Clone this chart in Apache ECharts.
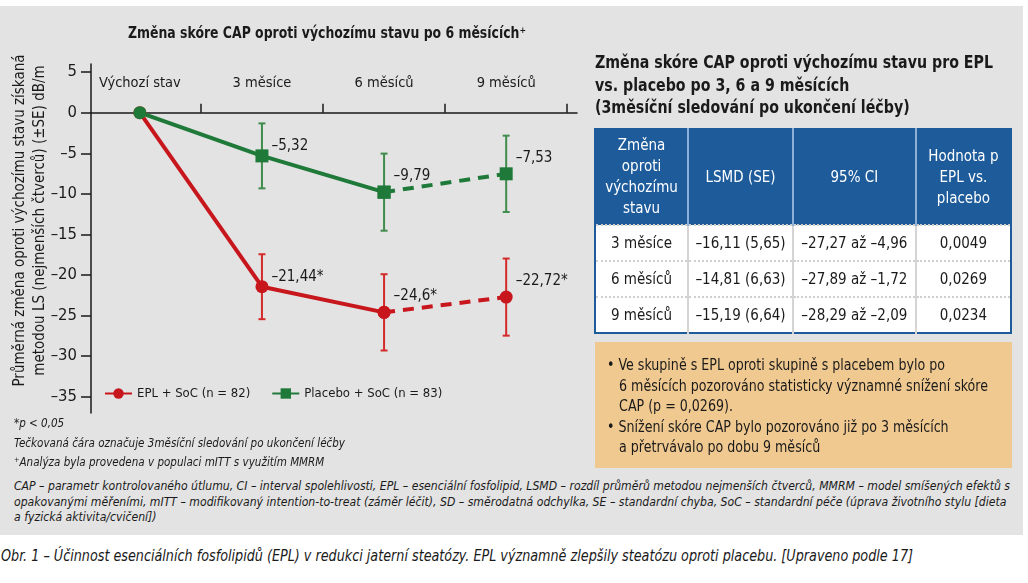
<!DOCTYPE html>
<html>
<head>
<meta charset="utf-8">
<script src="https://cdn.jsdelivr.net/npm/echarts@6/dist/echarts.min.js"></script>
<style>
  body { margin: 0; background: #fff; font-family: 'DejaVu Sans Condensed', 'Liberation Sans', sans-serif; color: #1a1a1a; }
  #panel { position: absolute; left: 0; top: 6px; width: 1023px; height: 529px; background: #e3e3e3; }
  #chart { position: absolute; left: 0; top: 0; width: 654px; height: 420px; }
  .abs { position: absolute; white-space: nowrap; transform-origin: 0 0; }
  #ctitle { left: 128px; top: 23px; font-weight: bold; font-size: 16px; line-height: 20px; }
  #rtitle { left: 595px; top: 51px; font-weight: bold; font-size: 17.5px; line-height: 22.5px; }
  table { position: absolute; left: 594px; top: 128px; width: 418px; border-collapse: collapse; border: 2px solid #1d5b9b; font-size: 15px; }
  th { background: #1d5b9b; color: #fff; font-weight: normal; line-height: 21px; height: 94px; padding: 0; border-left: 2px solid #8fb0d6; }
  td { background: #fff; text-align: center; height: 34px; padding: 0; border-left: 2px solid #d4d4d4; border-top: 2px dotted #cfcfcf; }
  th:first-child, td:first-child { border-left: none; }
  #box { left: 595px; top: 342px; width: 417px; height: 126px; background: #f0c990; }
  #boxtext { left: 607px; top: 355px; font-size: 15.5px; line-height: 20.5px; }
  .foot { left: 14px; font-style: italic; font-size: 13px; }
</style>
</head>
<body>
<div id="panel"></div>
<div id="chart"></div>

<div id="ctitle" class="abs">Změna skóre CAP oproti výchozímu stavu po 6 měsících⁺</div>
<div id="rtitle" class="abs">Změna skóre CAP oproti výchozímu stavu pro EPL<br>vs. placebo po 3, 6 a 9 měsících<br>(3měsíční sledování po ukončení léčby)</div>
<table>
  <tr><th style="width:92px">Změna<br>oproti<br>výchozímu<br>stavu</th><th style="width:106px">LSMD (SE)</th><th style="width:125px">95% CI</th><th style="width:95px">Hodnota p<br>EPL vs.<br>placebo</th></tr>
  <tr><td>3 měsíce</td><td>–16,11 (5,65)</td><td>–27,27 až –4,96</td><td>0,0049</td></tr>
  <tr><td>6 měsíců</td><td>–14,81 (6,63)</td><td>–27,89 až –1,72</td><td>0,0269</td></tr>
  <tr><td>9 měsíců</td><td>–15,19 (6,64)</td><td>–28,29 až –2,09</td><td>0,0234</td></tr>
</table>
<div id="box" class="abs"></div>
<div id="boxtext" class="abs">• Ve skupině s EPL oproti skupině s placebem bylo po<br>&nbsp;&nbsp;&nbsp;6 měsících pozorováno statisticky významné snížení skóre<br>&nbsp;&nbsp;&nbsp;CAP (p = 0,0269).<br>• Snížení skóre CAP bylo pozorováno již po 3 měsících<br>&nbsp;&nbsp;&nbsp;a přetrvávalo po dobu 9 měsíců</div>

<div id="notes" class="abs foot" style="top:413px; line-height:19.5px">*p &lt; 0,05<br>Tečkovaná čára označuje 3měsíční sledování po ukončení léčby<br>⁺Analýza byla provedena v populaci mITT s využitím MMRM</div>
<div id="abbr" class="abs foot" style="top:478px; line-height:15.5px">CAP – parametr kontrolovaného útlumu, CI – interval spolehlivosti, EPL – esenciální fosfolipid, LSMD – rozdíl průměrů metodou nejmenších čtverců, MMRM – model smíšených efektů s<br>opakovanými měřeními, mITT – modifikovaný intention-to-treat (záměr léčit), SD – směrodatná odchylka, SE – standardní chyba, SoC – standardní péče (úprava životního stylu [dieta<br>a fyzická aktivita/cvičení])</div>
<div id="caption" class="abs" style="left:1px; top:546px; font-style:italic; font-size:15px; line-height:20px">Obr. 1 – Účinnost esenciálních fosfolipidů (EPL) v redukci jaterní steatózy. EPL významně zlepšily steatózu oproti placebu. [Upraveno podle 17]</div>

<script>
// data
var categories = ['Výchozí stav', '3 měsíce', '6 měsíců', '9 měsíců'];
var eplValues = [0, -21.44, -24.6, -22.72];
var eplSE = [0, 4.0, 4.7, 4.75];
var eplStars = ['', '*', '*', '*'];
var placeboValues = [0, -5.32, -9.79, -7.53];
var placeboSE = [0, 4.0, 4.75, 4.7];
var yTicks = [5, 0, -5, -10, -15, -20, -25, -30, -35];
var xTicks = [0.5, 1.5, 2.5, 3.5]; // separators between the time points
var followUpFrom = 2; // dashed segment: 6 -> 9 months

var FONT = "'DejaVu Sans Condensed', 'Liberation Sans', sans-serif";
var RED = '#c8161d', GREEN = '#1f7a3a';
var RED_BAR = '#d42a2a', GREEN_BAR = '#3f8c4c';
var Y_MIN = -37, Y_MAX = 6, GRID_TOP = 64, GRID_H = 349;
var X_MIN = -0.4, X_MAX = 3.58;

// condensed typeface is not available, so squeeze html text to the width it has in the figure
function fitWidth (id, target) {
  var el = document.getElementById(id);
  var w = el.getBoundingClientRect().width;
  el.style.transform = 'scaleX(' + (target / w) + ')';
}
fitWidth('ctitle', 398);
fitWidth('rtitle', 398);
fitWidth('boxtext', 381);
fitWidth('notes', 331);
fitWidth('abbr', 996);
fitWidth('caption', 912);

function fmt (v) {
  return String(v).replace('.', ',').replace('-', '–');
}

// split a series into the solid (treatment) and dashed (follow-up) part
function part (values, stars, solid) {
  var out = [];
  values.forEach(function (v, i) {
    var inside = solid ? i <= followUpFrom : i >= followUpFrom;
    if (!inside) return;
    var showLabel = solid ? (i > 0 && i <= followUpFrom) : i > followUpFrom;
    out.push({
      value: [i, v],
      label: { show: showLabel, offset: [0, i === 1 ? -10 : -16] },
      suffix: stars ? stars[i] : ''
    });
  });
  return out;
}

function lineSeries (name, values, stars, solid, color, symbol) {
  var data = part(values, stars, solid);
  // the baseline point is drawn as a green circle
  if (solid && symbol === 'rect') data[0].symbol = 'circle';
  return {
    type: 'line', name: name, z: 3,
    data: data,
    symbol: symbol, symbolSize: 13,
    itemStyle: { color: color },
    lineStyle: { color: color, width: 4, type: solid ? 'solid' : [11, 8] },
    label: {
      position: 'right', distance: 3,
      fontFamily: FONT, fontSize: 15, color: '#1a1a1a',
      formatter: function (p) { return fmt(p.value[1]) + (p.data.suffix || ''); }
    },
    emphasis: { disabled: true },
    animation: false
  };
}

function errorBars (name, values, se, color) {
  var data = [];
  values.forEach(function (v, i) {
    if (se[i]) data.push([i, v - se[i], v + se[i]]);
  });
  return {
    type: 'custom', name: name, z: 2, data: data,
    encode: { x: 0, y: [1, 2] },
    renderItem: function (params, api) {
      var lo = api.coord([api.value(0), api.value(1)]);
      var hi = api.coord([api.value(0), api.value(2)]);
      var st = { stroke: color, lineWidth: 2 };
      return { type: 'group', children: [
        { type: 'line', shape: { x1: lo[0], y1: lo[1], x2: hi[0], y2: hi[1] }, style: st },
        { type: 'line', shape: { x1: lo[0] - 3.5, y1: lo[1], x2: lo[0] + 3.5, y2: lo[1] }, style: st },
        { type: 'line', shape: { x1: hi[0] - 3.5, y1: hi[1], x2: hi[0] + 3.5, y2: hi[1] }, style: st }
      ]};
    },
    animation: false
  };
}

// the time axis sits on y = 0, with its labels above it
var zeroOffset = GRID_H * Y_MAX / (Y_MAX - Y_MIN);
var axisColor = '#1a1a1a';

var chart = echarts.init(document.getElementById('chart'));
chart.setOption({
  textStyle: { fontFamily: FONT },
  legend: {
    data: ['EPL + SoC (n = 82)', 'Placebo + SoC (n = 83)'],
    left: 104, top: 387, padding: 0,
    itemWidth: 27, itemHeight: 13, itemGap: 21,
    textStyle: { fontFamily: FONT, fontSize: 13, color: '#1a1a1a' }
  },
  grid: { left: 91, top: GRID_TOP, width: 486, height: GRID_H, containLabel: false, outerBoundsMode: 'none' },
  xAxis: {
    type: 'value', min: X_MIN, max: X_MAX, position: 'top', offset: -zeroOffset,
    axisLine: { show: true, onZero: false, lineStyle: { color: axisColor, width: 1.5 } },
    axisTick: { show: true, customValues: xTicks, length: 9, lineStyle: { color: axisColor, width: 1.5 } },
    axisLabel: { show: true, customValues: [0, 1, 2, 3], margin: 22, fontFamily: FONT, fontSize: 14.5, color: '#1a1a1a',
      formatter: function (v) { return categories[Math.round(v)]; } },
    splitLine: { show: false }
  },
  yAxis: {
    type: 'value', min: Y_MIN, max: Y_MAX, position: 'left',
    name: 'Průměrná změna oproti výchozímu stavu získaná\nmetodou LS (nejmenších čtverců) (±SE) dB/m',
    nameLocation: 'middle', nameRotate: 90, nameGap: 41, nameMoveOverlap: false,
    nameTextStyle: { fontFamily: FONT, fontSize: 15, lineHeight: 20, color: '#1a1a1a', padding: [0, 0, 0, 36] },
    axisLine: { show: true, onZero: false, lineStyle: { color: axisColor, width: 1.5 } },
    axisTick: { show: true, length: 10, customValues: yTicks, lineStyle: { color: axisColor, width: 1.5 } },
    axisLabel: { customValues: yTicks, margin: 14, fontFamily: FONT, fontSize: 16.5, color: '#1a1a1a',
      formatter: function (v) { return fmt(v); } },
    splitLine: { show: false }
  },
  series: [
    errorBars('epl-se', eplValues, eplSE, RED_BAR),
    errorBars('placebo-se', placeboValues, placeboSE, GREEN_BAR),
    lineSeries('EPL + SoC (n = 82)', eplValues, eplStars, true, RED, 'circle'),
    lineSeries('epl-follow', eplValues, eplStars, false, RED, 'circle'),
    lineSeries('Placebo + SoC (n = 83)', placeboValues, null, true, GREEN, 'rect'),
    lineSeries('placebo-follow', placeboValues, null, false, GREEN, 'rect')
  ]
});
</script>
</body>
</html>
